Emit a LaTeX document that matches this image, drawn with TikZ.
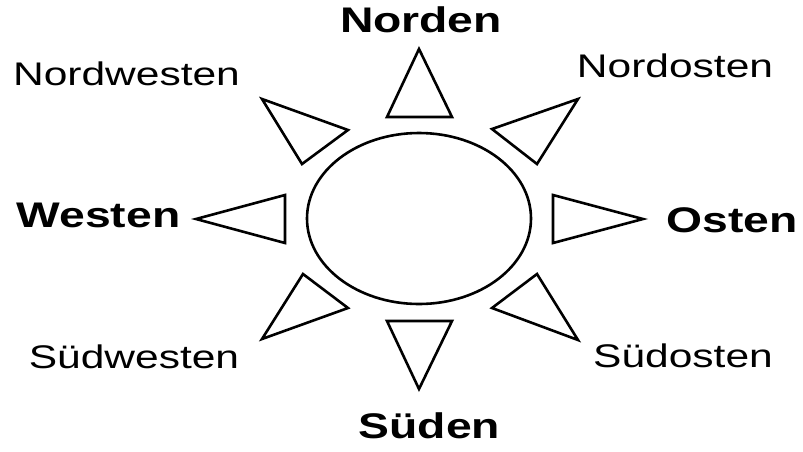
\documentclass[tikz,border=0pt]{standalone}
\usepackage{fontspec}
\setmainfont{Liberation Sans}
\usepackage{tikz}
\newcommand{\breit}[1]{\scalebox{1.3}[1]{#1}}
\tikzset{
  ray/.style={draw=black, line width=2.6pt, line join=miter},
  disc/.style={draw=black, line width=2.6pt},
  mainlbl/.style={anchor=base, inner sep=0pt, font=\fontsize{35.6}{42}\selectfont\bfseries},
  sidelbl/.style={anchor=base, inner sep=0pt, font=\fontsize{32.7}{39}\selectfont}
}

\begin{document}
\begin{tikzpicture}[x=1pt, y=-1pt]
\useasboundingbox (0,0) rectangle (803,451);
% Mitte
\draw[disc] (419,218.5) ellipse [x radius=112, y radius=85.5];
% Strahlen
\draw[ray] (419,49) -- (452,117) -- (387,117) -- cycle;
\draw[ray] (419,389) -- (387,321) -- (452,321) -- cycle;
\draw[ray] (196,219) -- (285,195) -- (285,243) -- cycle;
\draw[ray] (643,219) -- (553,195) -- (553,243) -- cycle;
\draw[ray] (262,99) -- (348,130) -- (302,164) -- cycle;
\draw[ray] (578,99) -- (492,129) -- (537,164) -- cycle;
\draw[ray] (262,339) -- (303,274) -- (348,308) -- cycle;
\draw[ray] (578,340) -- (537,274) -- (492,308) -- cycle;
% Himmelsrichtungen
\node[mainlbl] (n) at (421,32) {\breit{Norden}};
\node[mainlbl] (s) at (429.5,438) {\breit{Süden}};
\node[mainlbl] (w) at (98.5,227) {\breit{Westen}};
\node[mainlbl] (o) at (732,232) {\breit{Osten}};
\node[sidelbl] (nw) at (126.5,85) {\breit{Nordwesten}};
\node[sidelbl] (no) at (675,77) {\breit{Nordosten}};
\node[sidelbl] (sw) at (134,368) {\breit{Südwesten}};
\node[sidelbl] (so) at (683,367) {\breit{Südosten}};
\end{tikzpicture}
\end{document}
